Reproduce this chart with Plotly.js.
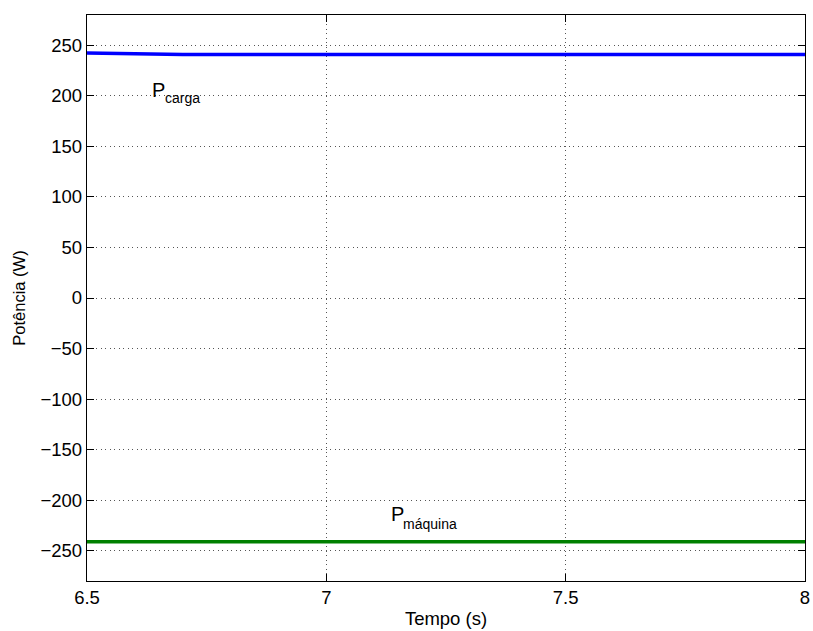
<!DOCTYPE html>
<html>
<head>
<meta charset="utf-8">
<script src="https://cdn.plot.ly/plotly-3.0.1.min.js"></script>
<style>body{margin:0;background:#fff}#chart{width:813px;height:631px}</style>
</head>
<body>
<div id="chart"></div>
<script>
const tempo = [6.5, 6.55, 6.6, 6.65, 6.7, 6.8, 6.9, 7.0, 7.25, 7.5, 7.75, 8.0];
const pCarga = [242.5, 242.0, 241.5, 241.1, 240.9, 240.8, 240.8, 240.8, 240.8, 240.8, 240.8, 240.8];
const pMaquina = [-241.1, -241.1, -241.1, -241.1, -241.1, -241.1, -241.1, -241.1, -241.1, -241.1, -241.1, -241.1];
const xTicks = [6.5, 7, 7.5, 8];
const xTickText = ['6.5', '7', '7.5', '8'];
const yTicks = [-250, -200, -150, -100, -50, 0, 50, 100, 150, 200, 250];
// label texts: main symbol and subscript
const labelMain = ['P', 'P'];
const labelSub = ['carga', 'máquina'];
const labelX = [6.6337, 7.133];
const labelY = [206, -214];
const subX = [6.661, 7.159];
const subY = [198, -223.6];

const fam = 'Liberation Sans, Arial, sans-serif';
const tickFont = {family: fam, size: 18.5, color: '#000'};
const axisCommon = {
  showline: true, mirror: 'ticks', linecolor: '#000', linewidth: 1.2,
  ticks: 'inside', ticklen: 7, tickcolor: '#000',
  showgrid: true, gridcolor: '#555', griddash: '1px,3.5px', gridwidth: 1,
  zeroline: false, tickfont: tickFont
};
const data = [
  {x: tempo, y: pCarga, mode: 'lines', line: {color: '#0000ff', width: 3.5}, hoverinfo: 'skip'},
  {x: tempo, y: pMaquina, mode: 'lines', line: {color: '#008000', width: 3.5}, hoverinfo: 'skip'}
];
const annotations = [];
for (let i = 0; i < labelMain.length; i++) {
  annotations.push({x: labelX[i], y: labelY[i], xref: 'x', yref: 'y', xanchor: 'left', yanchor: 'middle',
    showarrow: false, borderpad: 0, text: labelMain[i], font: {family: fam, size: 20, color: '#000'}});
  annotations.push({x: subX[i], y: subY[i], xref: 'x', yref: 'y', xanchor: 'left', yanchor: 'middle',
    showarrow: false, borderpad: 0, text: labelSub[i], font: {family: fam, size: 14, color: '#000'}});
}
const layout = {
  width: 813, height: 631,
  margin: {l: 87, r: 8, t: 15, b: 50},
  paper_bgcolor: '#fff', plot_bgcolor: '#fff',
  showlegend: false,
  font: tickFont,
  xaxis: Object.assign({}, axisCommon, {
    range: [6.5, 8], tickvals: xTicks, ticktext: xTickText,
    title: {text: 'Tempo (s)', font: {family: fam, size: 18.5, color: '#000'}, standoff: 4}
  }),
  yaxis: Object.assign({}, axisCommon, {
    range: [-280, 280], tickvals: yTicks,
    title: {text: 'Potência (W)', font: {family: fam, size: 16.5, color: '#000'}, standoff: 10}
  }),
  annotations: annotations
};
Plotly.newPlot('chart', data, layout, {staticPlot: true, displayModeBar: false});
</script>
</body>
</html>
